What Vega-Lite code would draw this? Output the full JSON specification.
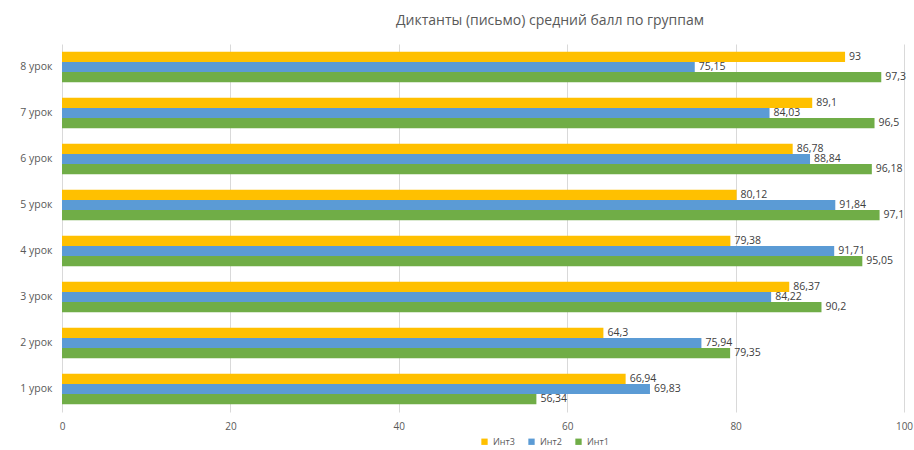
{
  "$schema": "https://vega.github.io/schema/vega-lite/v6.json",
  "width": 842,
  "height": 368,
  "autosize": {"type": "none"},
  "padding": {"left": 62, "top": 44, "right": 10, "bottom": 38},
  "background": "white",
  "config": {
    "locale": {"number": {"decimal": ",", "thousands": " ", "grouping": [3], "currency": ["", ""]}},
    "view": {"stroke": null},
    "font": "Open Sans"
  },
  "title": {
    "text": "Диктанты (письмо) средний балл по группам",
    "fontSize": 14,
    "fontWeight": "normal",
    "color": "#595959",
    "dx": 67,
    "offset": 16
  },
  "data": {
    "values": [
      {"lesson": "8 урок", "group": "Инт3", "value": 93},
      {"lesson": "8 урок", "group": "Инт2", "value": 75.15},
      {"lesson": "8 урок", "group": "Инт1", "value": 97.3},
      {"lesson": "7 урок", "group": "Инт3", "value": 89.1},
      {"lesson": "7 урок", "group": "Инт2", "value": 84.03},
      {"lesson": "7 урок", "group": "Инт1", "value": 96.5},
      {"lesson": "6 урок", "group": "Инт3", "value": 86.78},
      {"lesson": "6 урок", "group": "Инт2", "value": 88.84},
      {"lesson": "6 урок", "group": "Инт1", "value": 96.18},
      {"lesson": "5 урок", "group": "Инт3", "value": 80.12},
      {"lesson": "5 урок", "group": "Инт2", "value": 91.84},
      {"lesson": "5 урок", "group": "Инт1", "value": 97.1},
      {"lesson": "4 урок", "group": "Инт3", "value": 79.38},
      {"lesson": "4 урок", "group": "Инт2", "value": 91.71},
      {"lesson": "4 урок", "group": "Инт1", "value": 95.05},
      {"lesson": "3 урок", "group": "Инт3", "value": 86.37},
      {"lesson": "3 урок", "group": "Инт2", "value": 84.22},
      {"lesson": "3 урок", "group": "Инт1", "value": 90.2},
      {"lesson": "2 урок", "group": "Инт3", "value": 64.3},
      {"lesson": "2 урок", "group": "Инт2", "value": 75.94},
      {"lesson": "2 урок", "group": "Инт1", "value": 79.35},
      {"lesson": "1 урок", "group": "Инт3", "value": 66.94},
      {"lesson": "1 урок", "group": "Инт2", "value": 69.83},
      {"lesson": "1 урок", "group": "Инт1", "value": 56.34}
    ]
  },
  "encoding": {
    "y": {
      "field": "lesson",
      "type": "nominal",
      "sort": ["8 урок", "7 урок", "6 урок", "5 урок", "4 урок", "3 урок", "2 урок", "1 урок"],
      "scale": {"paddingInner": 0.34, "paddingOuter": 0.17},
      "axis": {
        "title": null,
        "domain": false,
        "ticks": false,
        "labelPadding": 10,
        "labelFontSize": 10.5,
        "labelColor": "#595959"
      }
    },
    "yOffset": {
      "field": "group",
      "type": "nominal",
      "sort": ["Инт3", "Инт2", "Инт1"]
    },
    "x": {
      "field": "value",
      "type": "quantitative",
      "scale": {"domain": [0, 100]},
      "axis": {
        "title": null,
        "values": [0, 20, 40, 60, 80, 100],
        "domain": false,
        "ticks": false,
        "grid": true,
        "gridColor": "#d9d9d9",
        "labelFlush": false,
        "labelPadding": 9,
        "labelFontSize": 10,
        "labelColor": "#595959"
      }
    }
  },
  "layer": [
    {
      "mark": {"type": "bar"},
      "encoding": {
        "color": {
          "field": "group",
          "type": "nominal",
          "sort": ["Инт3", "Инт2", "Инт1"],
          "scale": {"domain": ["Инт3", "Инт2", "Инт1"], "range": ["#FFC000", "#5B9BD5", "#70AD47"]},
          "legend": {
            "title": null,
            "orient": "none",
            "direction": "horizontal",
            "legendX": 418,
            "legendY": 393,
            "symbolType": "square",
            "symbolSize": 40,
            "symbolStrokeWidth": 0,
            "labelFontSize": 9,
            "labelColor": "#595959",
            "columnPadding": 12
          }
        }
      }
    },
    {
      "mark": {"type": "text", "align": "left", "baseline": "middle", "dx": 4, "fontSize": 10.5, "color": "#404040"},
      "encoding": {
        "text": {"field": "value", "type": "quantitative", "format": ".2~f"}
      }
    }
  ]
}
